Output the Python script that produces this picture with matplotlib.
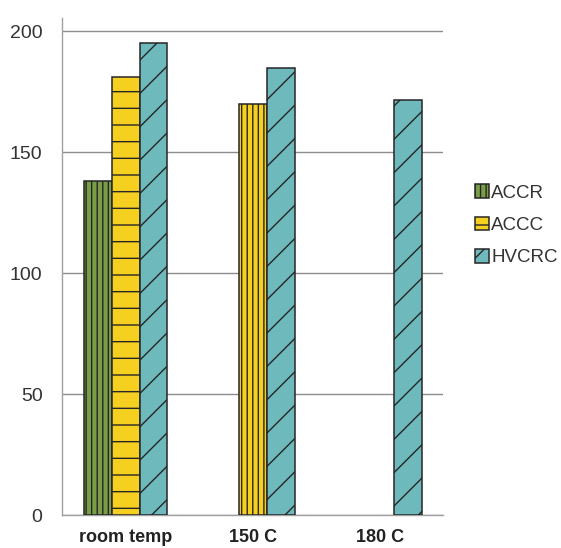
import numpy as np
import matplotlib
matplotlib.use("Agg")
import matplotlib.pyplot as plt

# data
categories = ["room temp", "150 C", "180 C"]
series = ["ACCR", "ACCC", "HVCRC"]
accr = [138, np.nan, np.nan]
accc = [181, 170, np.nan]
hvcrc = [195, 185, 171.5]

colors = ["#7a9d47", "#f6d020", "#6db9bc"]
hatches = [["|||", "|||", "|||"], ["-", "|||", "-"], ["/", "/", "/"]]

plt.rcParams["font.family"] = ["Liberation Sans", "DejaVu Sans"]
plt.rcParams["hatch.linewidth"] = 1.0

fig = plt.figure(figsize=(5.61, 5.48), dpi=100)
ax = fig.add_axes([0.1105, 0.0602, 0.6795, 0.9068])

x = np.arange(len(categories))
w = 0.22
for k, (vals, name) in enumerate(zip([accr, accc, hvcrc], series)):
    bars = ax.bar(x + (k - 1) * w, vals, width=w, color=colors[k],
                  edgecolor="#262626", linewidth=1.1, label=name, zorder=3)
    for b, h in zip(bars, hatches[k]):
        b.set_hatch(h)

ax.set_xlim(-0.5, 2.5)
ax.set_ylim(0, 205.5)
ax.set_yticks([0, 50, 100, 150, 200])
ax.set_xticks(x)
ax.set_xticklabels(categories, fontsize=13, fontweight="bold", color="#222222")
ax.tick_params(axis="y", labelsize=14, labelcolor="#333333", length=0, pad=14)
ax.tick_params(axis="x", length=0, pad=10)
ax.yaxis.grid(True, color="#8c8c8c", linewidth=1.0, zorder=0)
ax.set_axisbelow(True)
for s in ["top", "right"]:
    ax.spines[s].set_visible(False)
for s in ["left", "bottom"]:
    ax.spines[s].set_color("#a0a0a0")
    ax.spines[s].set_linewidth(1.0)

handles, labels = ax.get_legend_handles_labels()
leg = fig.legend(handles, labels, loc="center left", bbox_to_anchor=(0.83, 0.589),
                 frameon=False, fontsize=13.5, handlelength=0.75, handleheight=0.75,
                 handletextpad=0.12, labelspacing=0.8, borderpad=0)
for t in leg.get_texts():
    t.set_color("#333333")

fig.savefig("out.png", dpi=100)
